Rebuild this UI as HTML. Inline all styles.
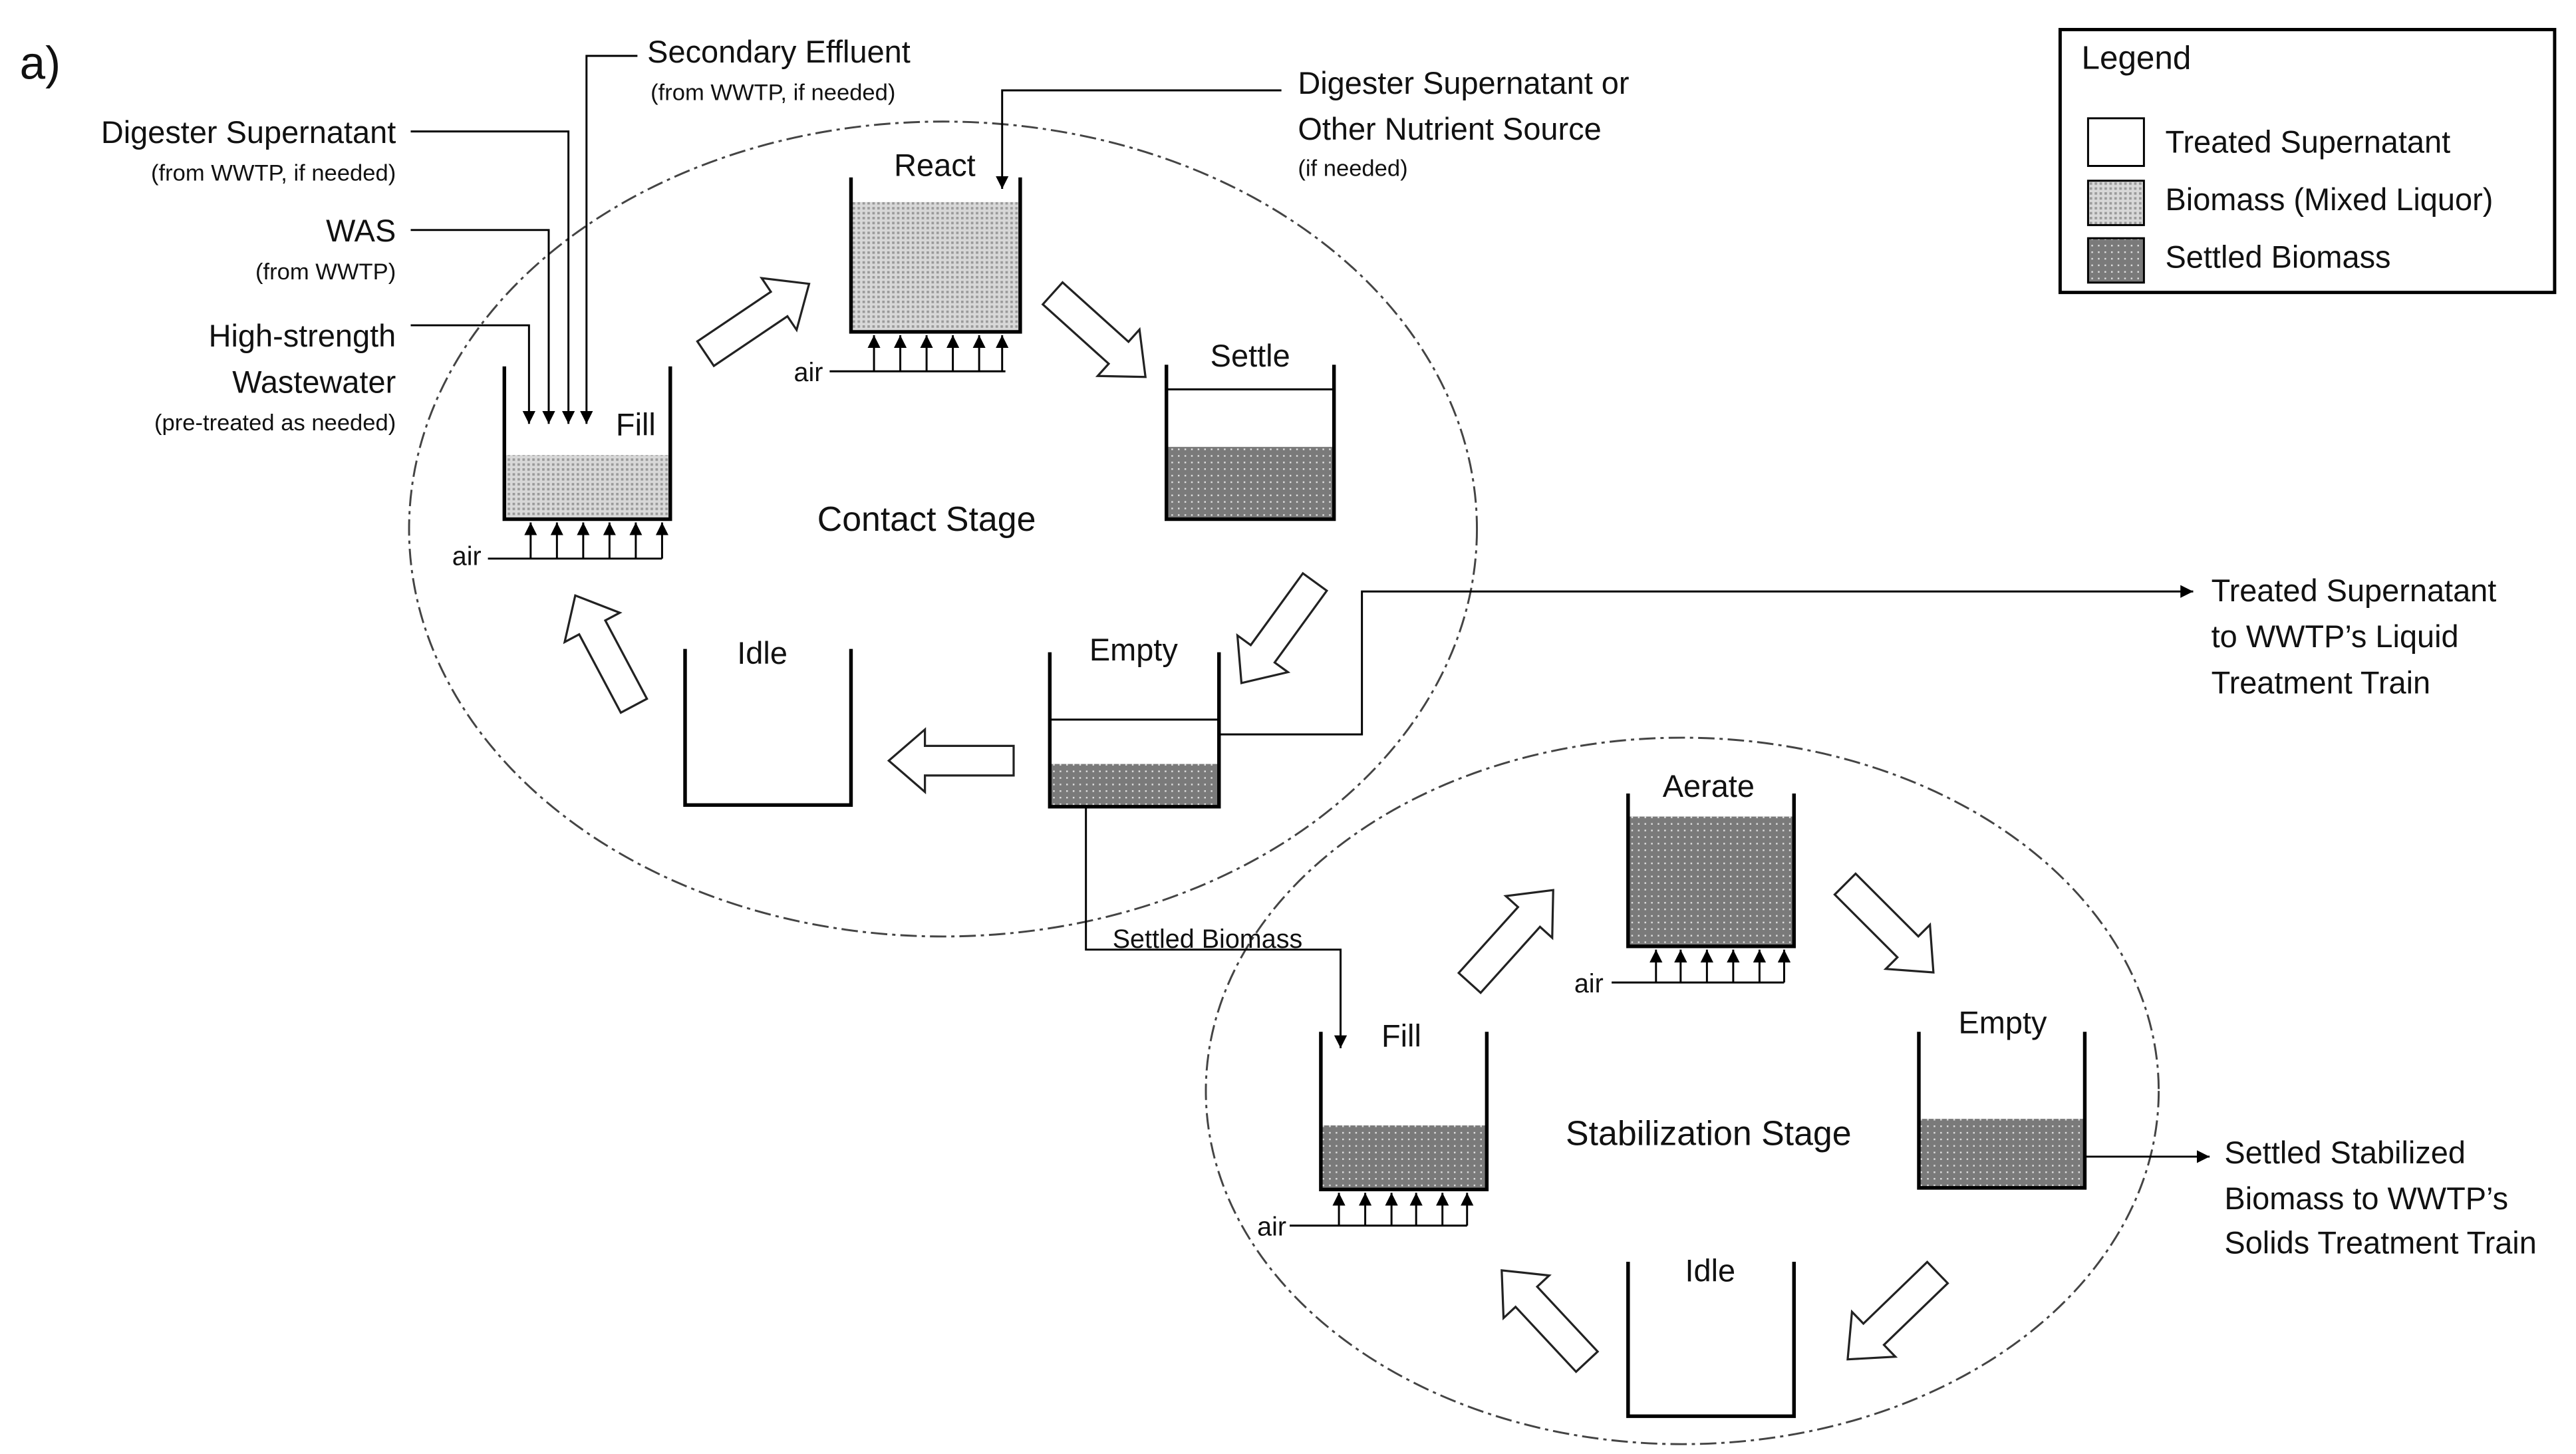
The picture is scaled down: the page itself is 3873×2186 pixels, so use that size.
<!DOCTYPE html>
<html><head><meta charset="utf-8"><style>html,body{margin:0;padding:0;background:#fff}svg{display:block}text{font-family:"Liberation Sans",sans-serif;fill:#111}</style></head>
<body>
<svg width="3873" height="2186" viewBox="0 0 1568 885" preserveAspectRatio="none" xmlns="http://www.w3.org/2000/svg">
<defs>
<pattern id="bio" width="3" height="3" patternUnits="userSpaceOnUse"><rect width="3" height="3" fill="#d8d8d8"/><rect width="1.5" height="1.5" fill="#9a9a9a"/></pattern>
<pattern id="set" width="4" height="4" patternUnits="userSpaceOnUse"><rect width="4" height="4" fill="#7a7a7a"/><rect x="1" y="1" width="1" height="1" fill="#ddd"/></pattern>
<marker id="ah" viewBox="0 0 10 10" refX="10" refY="5" markerWidth="6.5" markerHeight="6.5" orient="auto"><path d="M0 0L10 5L0 10Z" fill="#000"/></marker>
<path id="ba" d="M-38 -9 L16 -9 L16 -19 L38 0 L16 19 L16 9 L-38 9 Z" fill="#fff" stroke="#222" stroke-width="1.3"/>
</defs>
<g fill="none" stroke="#444" stroke-width="1.2" stroke-dasharray="10 3 2 3">
<ellipse cx="574" cy="322" rx="325" ry="248"/>
<ellipse cx="1024" cy="664" rx="290" ry="215"/>
</g>
<text x="12" y="48" font-size="28">a)</text>
<rect x="307" y="277" width="101" height="39" fill="url(#bio)"/>
<rect x="518" y="123" width="103" height="79" fill="url(#bio)"/>
<rect x="710" y="272" width="102" height="44" fill="url(#set)"/>
<rect x="639" y="465" width="103" height="26" fill="url(#set)"/>
<rect x="991" y="497" width="101" height="79" fill="url(#set)"/>
<rect x="804" y="685" width="101" height="39" fill="url(#set)"/>
<rect x="1168" y="681" width="101" height="42" fill="url(#set)"/>
<g fill="none" stroke="#000" stroke-width="2.2">
<path d="M307 223V316H408V223"/>
<path d="M518 108V202H621V108"/>
<path d="M710 222V316H812V222"/>
<path d="M639 397V491H742V397"/>
<path d="M417 395V490H518V395"/>
<path d="M991 483V576H1092V483"/>
<path d="M804 628V724H905V628"/>
<path d="M1168 628V723H1269V628"/>
<path d="M991 768V862H1092V768"/>
</g>
<g stroke="#000" stroke-width="1.2">
<line x1="710" y1="237" x2="812" y2="237"/>
<line x1="639" y1="438" x2="742" y2="438"/>
</g>
<g stroke="#000" stroke-width="1.2" fill="none" marker-end="url(#ah)">
<path d="M323 340V318"/><path d="M339 340V318"/><path d="M355 340V318"/><path d="M371 340V318"/><path d="M387 340V318"/><path d="M403 340V318"/>
<path d="M532 226V204"/><path d="M548 226V204"/><path d="M564 226V204"/><path d="M580 226V204"/><path d="M596 226V204"/><path d="M610 226V204"/>
<path d="M1008 598V578"/><path d="M1023 598V578"/><path d="M1039 598V578"/><path d="M1055 598V578"/><path d="M1071 598V578"/><path d="M1086 598V578"/>
<path d="M815 746V726"/><path d="M831 746V726"/><path d="M847 746V726"/><path d="M862 746V726"/><path d="M878 746V726"/><path d="M893 746V726"/>
<path d="M250 198H322V258"/><path d="M250 140H334V258"/><path d="M250 80H346V258"/><path d="M388 34H357V258"/>
<path d="M780 55H610V115"/>
<path d="M742 447H829V360H1335"/>
<path d="M661 491V578H816V638"/>
<path d="M1269 704H1345"/>
</g>
<g stroke="#000" stroke-width="1.2">
<line x1="297" y1="340" x2="403" y2="340"/>
<line x1="505" y1="226" x2="612" y2="226"/>
<line x1="981" y1="598" x2="1086" y2="598"/>
<line x1="785" y1="746" x2="893" y2="746"/>
</g>
<use href="#ba" transform="translate(461,194) rotate(-34)"/>
<use href="#ba" transform="translate(669,204) rotate(42)"/>
<use href="#ba" transform="translate(778,385) rotate(126)"/>
<use href="#ba" transform="translate(579,463) rotate(180)"/>
<use href="#ba" transform="translate(368,396) rotate(-118)"/>
<use href="#ba" transform="translate(920,570) rotate(-48)"/>
<use href="#ba" transform="translate(1150,565) rotate(45)"/>
<use href="#ba" transform="translate(1152,801) rotate(136)"/>
<use href="#ba" transform="translate(940,801) rotate(-133)"/>
<g font-size="19">
<text x="387" y="265" text-anchor="middle">Fill</text>
<text x="569" y="107" text-anchor="middle">React</text>
<text x="761" y="223" text-anchor="middle">Settle</text>
<text x="690" y="402" text-anchor="middle">Empty</text>
<text x="464" y="404" text-anchor="middle">Idle</text>
<text x="1040" y="485" text-anchor="middle">Aerate</text>
<text x="853" y="637" text-anchor="middle">Fill</text>
<text x="1219" y="629" text-anchor="middle">Empty</text>
<text x="1041" y="780" text-anchor="middle">Idle</text>
<text x="564" y="323" text-anchor="middle" font-size="21">Contact Stage</text>
<text x="1040" y="697" text-anchor="middle" font-size="21">Stabilization Stage</text>
</g>
<g font-size="16">
<text x="293" y="344" text-anchor="end">air</text>
<text x="501" y="232" text-anchor="end">air</text>
<text x="976" y="604" text-anchor="end">air</text>
<text x="783" y="752" text-anchor="end">air</text>
<text x="735" y="577" text-anchor="middle">Settled Biomass</text>
</g>
<g font-size="19" text-anchor="end">
<text x="241" y="87">Digester Supernatant</text>
<text x="241" y="147">WAS</text>
<text x="241" y="211">High-strength</text>
<text x="241" y="239">Wastewater</text>
</g>
<g font-size="14" text-anchor="end">
<text x="241" y="110">(from WWTP, if needed)</text>
<text x="241" y="170">(from WWTP)</text>
<text x="241" y="262">(pre-treated as needed)</text>
</g>
<text x="394" y="38" font-size="19">Secondary Effluent</text>
<text x="396" y="61" font-size="14">(from WWTP, if needed)</text>
<text x="790" y="57" font-size="19">Digester Supernatant or</text>
<text x="790" y="85" font-size="19">Other Nutrient Source</text>
<text x="790" y="107" font-size="14">(if needed)</text>
<g font-size="19">
<text x="1346" y="366">Treated Supernatant</text>
<text x="1346" y="394">to WWTP’s Liquid</text>
<text x="1346" y="422">Treatment Train</text>
<text x="1354" y="708">Settled Stabilized</text>
<text x="1354" y="736">Biomass to WWTP’s</text>
<text x="1354" y="763">Solids Treatment Train</text>
</g>
<rect x="1254" y="18" width="301" height="160" fill="#fff" stroke="#000" stroke-width="2"/>
<text x="1267" y="42" font-size="20">Legend</text>
<rect x="1271" y="72" width="34" height="29" fill="#fff" stroke="#000" stroke-width="1.2"/>
<rect x="1271" y="110" width="34" height="27" fill="url(#bio)" stroke="#000" stroke-width="1.2"/>
<rect x="1271" y="145" width="34" height="27" fill="url(#set)" stroke="#000" stroke-width="1.2"/>
<g font-size="19">
<text x="1318" y="93">Treated Supernatant</text>
<text x="1318" y="128">Biomass (Mixed Liquor)</text>
<text x="1318" y="163">Settled Biomass</text>
</g>
</svg>
</body></html>
